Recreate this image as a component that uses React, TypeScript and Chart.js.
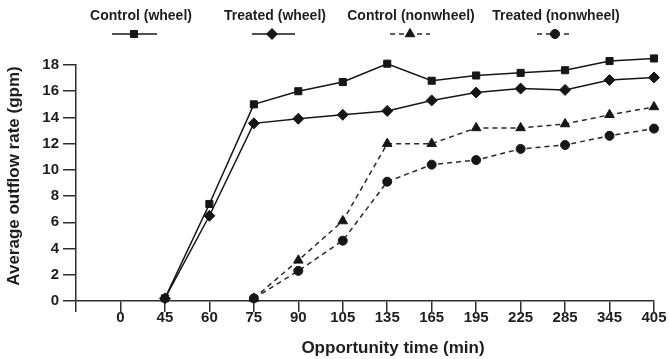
import React, { useEffect, useRef } from "react";
import { Chart, registerables } from "chart.js";
import { drawPoint } from "chart.js/helpers";

Chart.register(...registerables);

const categories = ["0", "45", "60", "75", "90", "105", "135", "165", "195", "225", "285", "345", "405"];
const controlWheel = [null, 0.2, 7.4, 15.0, 16.0, 16.7, 18.1, 16.8, 17.2, 17.4, 17.6, 18.3, 18.5];
const treatedWheel = [null, 0.2, 6.5, 13.55, 13.9, 14.2, 14.5, 15.3, 15.9, 16.2, 16.1, 16.85, 17.05];
const controlNonwheel = [null, null, null, 0.2, 3.1, 6.1, 12.0, 12.0, 13.2, 13.2, 13.5, 14.2, 14.8];
const treatedNonwheel = [null, null, null, 0.2, 2.3, 4.6, 9.1, 10.4, 10.75, 11.6, 11.9, 12.6, 13.15];

const seriesNames = ["Control (wheel)", "Treated (wheel)", "Control (nonwheel)", "Treated (nonwheel)"];
const yTitle = "Average outflow rate (gpm)";
const xTitle = "Opportunity time (min)";

const FONT = '"Liberation Sans", Arial, Helvetica, sans-serif';
const TEXT = "#1e1e1e";
const AXIS = "#2e2e2e";
const SOLID = "#161616";
const DASHED = "#2a2a2a";

const styles = [
  { pointStyle: "rect", radius: 5, color: SOLID, dash: [] as number[] },
  { pointStyle: "rectRot", radius: 5.5, color: SOLID, dash: [] as number[] },
  { pointStyle: "triangle", radius: 5.5, color: DASHED, dash: [5, 4] },
  { pointStyle: "circle", radius: 4.5, color: DASHED, dash: [5, 4] },
];

const legendLayout = [
  { tx: 141, lx0: 112, lx1: 157, px: 134 },
  { tx: 275, lx0: 252, lx1: 295, px: 272 },
  { tx: 411, lx0: 390, lx1: 430, px: 410 },
  { tx: 556, lx0: 537, lx1: 572, px: 555 },
];

const toPoints = (arr: (number | null)[]) =>
  arr
    .map((v, i) => (v === null ? null : { x: i, y: v }))
    .filter((p) => p !== null) as { x: number; y: number }[];

// Let markers slightly above the y max (values > 18) still be drawn.
const markerRoom = {
  id: "markerRoom",
  beforeDatasetsDraw(chart: any) {
    chart.chartArea.top -= 20;
  },
  afterDatasetsDraw(chart: any) {
    chart.chartArea.top += 20;
  },
};

const overlay = {
  id: "overlay",
  afterDraw(chart: any) {
    const ctx = chart.ctx as CanvasRenderingContext2D;
    ctx.save();
    ctx.fillStyle = TEXT;
    ctx.textAlign = "center";
    ctx.textBaseline = "middle";
    ctx.font = `bold 14px ${FONT}`;
    seriesNames.forEach((name, i) => {
      const l = legendLayout[i];
      const s = styles[i];
      ctx.fillStyle = TEXT;
      ctx.fillText(name, l.tx, 16);
      const y = 34;
      ctx.save();
      ctx.strokeStyle = s.color;
      ctx.lineWidth = 1.5;
      ctx.setLineDash(s.dash);
      ctx.beginPath();
      ctx.moveTo(l.lx0, y);
      ctx.lineTo(l.lx1, y);
      ctx.stroke();
      ctx.setLineDash([]);
      ctx.fillStyle = SOLID;
      ctx.strokeStyle = SOLID;
      ctx.lineWidth = 1;
      drawPoint(ctx, { pointStyle: s.pointStyle as any, radius: s.radius, rotation: 0, borderWidth: 1 }, l.px, y);
      ctx.restore();
    });
    // axis titles
    ctx.fillStyle = TEXT;
    ctx.font = `bold 17px ${FONT}`;
    ctx.fillText(xTitle, 393, 348);
    ctx.save();
    ctx.translate(14, 176);
    ctx.rotate(-Math.PI / 2);
    ctx.fillText(yTitle, 0, 0);
    ctx.restore();
    ctx.restore();
  },
};

export default function App() {
  const ref = useRef<HTMLCanvasElement>(null);
  useEffect(() => {
    if (!ref.current) return;
    const seriesData = [controlWheel, treatedWheel, controlNonwheel, treatedNonwheel];
    const chart = new Chart(ref.current, {
      type: "line",
      data: {
        datasets: seriesData.map((arr, i) => ({
          label: seriesNames[i],
          data: toPoints(arr),
          borderColor: styles[i].color,
          borderWidth: 1.5,
          borderDash: styles[i].dash,
          pointStyle: styles[i].pointStyle as any,
          pointRadius: styles[i].radius,
          pointBackgroundColor: SOLID,
          pointBorderColor: SOLID,
          pointBorderWidth: 1,
          tension: 0,
          fill: false,
          clip: false as any,
          order: 4 - i,
        })),
      },
      options: {
        responsive: false,
        animation: false,
        layout: { padding: { top: 65, right: 15, left: 0, bottom: 0 } },
        plugins: { legend: { display: false }, tooltip: { enabled: false } },
        scales: {
          x: {
            type: "linear",
            min: -1,
            max: categories.length - 1,
            afterFit: (scale: any) => {
              scale.height = 58;
            },
            grid: {
              drawOnChartArea: false,
              drawTicks: true,
              tickLength: 11,
              color: AXIS,
              lineWidth: 1.5,
            },
            border: { display: true, color: AXIS, width: 1.5 },
            ticks: {
              stepSize: 1,
              autoSkip: false,
              maxRotation: 0,
              padding: -3,
              color: TEXT,
              font: { family: FONT, size: 15, weight: "bold" },
              callback: (v: any) => (v >= 0 && Number.isInteger(v) ? categories[v] : ""),
            },
          },
          y: {
            type: "linear",
            min: 0,
            max: 18,
            afterFit: (scale: any) => {
              scale.width = 76;
            },
            grid: {
              drawOnChartArea: false,
              drawTicks: true,
              tickLength: 13,
              color: AXIS,
              lineWidth: 1.5,
            },
            border: { display: true, color: AXIS, width: 1.5 },
            ticks: {
              stepSize: 2,
              padding: 4,
              color: TEXT,
              font: { family: FONT, size: 15, weight: "bold" },
            },
          },
        },
      },
      plugins: [markerRoom, overlay],
    });
    return () => chart.destroy();
  }, []);
  return (
    <canvas
      ref={ref}
      width={669}
      height={359}
      style={{ position: "absolute", left: 0, top: 0, width: 669, height: 359, background: "#fff" }}
    />
  );
}
